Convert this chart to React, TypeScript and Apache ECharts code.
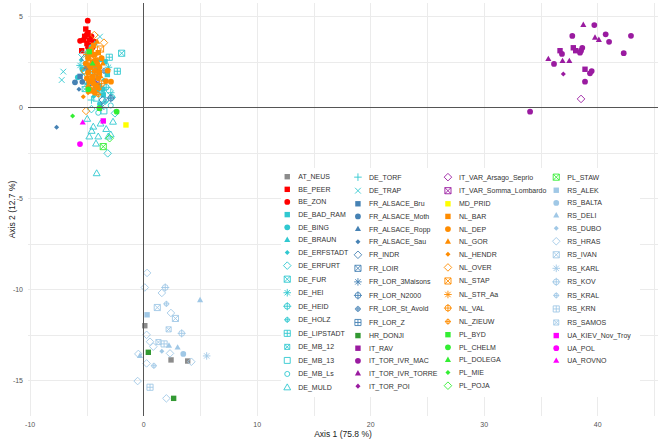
import React, { useEffect, useRef } from "react";
import * as echarts from "echarts";

// ---- Axis setup -----------------------------------------------------------
const X_MIN = -10.19;
const X_MAX = 45.31;
const Y_MIN = -16.96;
const Y_MAX = 5.73;
const X_LABELS = [-10, 0, 10, 20, 30, 40];
const X_GRID = [-10, -5, 0, 5, 10, 15, 20, 25, 30, 35, 40, 45];
const Y_LABELS = [-15, -10, -5, 0, 5];
const Y_GRID = [-15, -12.5, -10, -7.5, -5, -2.5, 0, 2.5, 5];

// ---- Individuals (PC1, PC2) per population --------------------------------
const AT_NEUS = [[0.1, -12.0], [2.41, -13.88], [3.88, -13.94]];
const BE_PEER = [[-5.1, 4.3], [-4.9, 4.1], [-5.2, 3.9], [-4.8, 3.7], [-5.0, 3.5], [-4.7, 3.4], [-5.46, 3.11], [-4.4, 3.6]];
const BE_ZON = [[-4.93, 4.76], [-5.0, 4.0], [-5.3, 3.7], [-4.6, 3.9], [-4.9, 3.3], [-5.6, 3.65], [-4.5, 3.3]];

const DE_BAD_RAM = [[-4.14, 0.95], [-3.56, 0.68], [-3.4, 2.5], [-3.2, 1.8], [-4.9, 2.8], [-3.9, 1.2]];
const DE_BING = [[-5.8, 1.65], [-3.85, 0.18], [-4.6, 3.3], [-3.6, 1.0], [-4.2, 2.2], [-5.4, 2.1]];
const DE_BRAUN = [[-4.3, 3.5], [-5.0, 1.3], [-3.9, 2.6]];
const DE_ERFSTADT = [[-5.5, 2.6], [-4.4, 0.6], [-3.5, 1.5]];
const DE_ERFURT = [[-3.17, -2.53], [-2.53, -0.33], [-5.4, 2.9], [-3.0, 0.9], [-4.6, -0.1]];
const DE_FUR = [[-1.94, 2.97]];
const DE_HEI = [[-5.6, 2.3], [-3.1, 2.2]];
const DE_HEID = [[-4.9, 3.0], [-3.3, 1.1], [-2.8, 0.55]];
const DE_HOLZ = [[-3.4, 0.3], [-4.5, 1.9]];
const DE_LIPSTADT = [[-3.03, 2.75], [-2.32, 1.98]];
const DE_MB_12 = [[-3.7, 0.9], [-5.2, 1.0]];
const DE_MB_13 = [[-3.5, -0.2], [-4.2, 0.5]];
const DE_MB_Ls = [[-3.3, 0.4], [-4.0, -0.3], [-2.9, 0.1]];
const DE_MULD = [[-4.79, -1.61], [-4.0, -1.61], [-3.12, -1.61], [-4.44, -1.07], [-4.97, -0.64], [-4.58, -1.3], [-4.14, -3.63], [-2.9, -1.5], [-3.3, -1.2], [-3.8, -0.9], [-2.7, -0.8], [-4.2, -2.0]];
const DE_TORF = [[-2.9, 0.8], [-4.6, 0.4]];
const DE_TRAP = [[-7.08, 1.96], [-7.22, 1.5], [-3.85, 3.88], [-5.3, 1.8]];

const FR_ALSACE_Bru = [[-5.6, 1.7], [-4.9, 2.1]];
const FR_ALSACE_Moth = [[-6.05, 1.37], [-5.4, 1.4]];
const FR_ALSACE_Ropp = [[-5.1, 2.2], [-4.5, 1.6]];
const FR_ALSACE_Sau = [[-7.67, -1.1], [-5.7, 0.99]];
const FR_INDR = [[-5.2, 2.7], [-3.6, 0.4]];
const FR_LOIR = [[-4.3, 1.5]];
const FR_LOR_3Maisons = [[-3.7, 0.0]];
const FR_LOR_N2000 = [[-2.9, 0.5], [-4.1, 1.9]];
const FR_LOR_St_Avold = [[-3.5, 2.0]];
const FR_LOR_Z = [[-4.7, 1.2]];

const HR_DONJI = [[0.41, -13.46], [2.64, -15.99]];

const IT_RAV = [[36.68, 3.11], [37.85, 3.27], [38.06, 3.11], [38.88, 2.09]];
const IT_TOR_IVR_MAC = [[39.7, 4.52], [37.76, 3.92], [40.7, 4.01], [41.0, 3.6], [42.93, 3.93], [36.85, 2.93], [38.64, 3.27], [38.53, 3.11], [38.44, 3.0], [42.29, 2.97], [36.15, 2.38], [39.47, 1.99], [39.32, 1.87], [38.88, 1.41], [34.04, -0.24]];
const IT_TOR_IVR_TORRE = [[38.73, 4.52], [39.76, 3.82], [40.1, 3.7], [35.65, 2.65], [36.9, 2.54], [37.5, 2.54]];
const IT_TOR_POI = [[36.97, 1.83]];
const IT_VAR_Arsago_Seprio = [[38.53, 0.46]];
const IT_VAR_Somma_Lombardo = [[-4.2, 1.4]];

const MD_PRID = [[-1.56, -0.97]];

const NL_BAR = [[-4.4, 3.4], [-4.6, 2.9], [-4.2, 2.6], [-4.8, 2.3], [-3.9, 1.9], [-4.5, 1.5], [-4.2, 1.2], [-4.7, 0.9], [-4.0, 3.0]];
const NL_DEP = [[-4.6, 3.2], [-4.3, 2.9], [-4.9, 2.7], [-4.5, 2.5], [-4.1, 2.4], [-4.7, 2.2], [-4.3, 2.0], [-4.9, 1.9], [-4.5, 1.7], [-4.0, 1.6], [-4.8, 1.4], [-4.4, 1.3], [-4.1, 1.1], [-4.7, 1.0], [-4.3, 0.8], [-3.17, 2.01], [-3.32, 1.44], [-2.88, 1.41], [-3.9, 2.2], [-5.1, 2.4], [-3.7, 2.7], [-5.0, 1.6]];
const NL_GOR = [[-4.1, 3.6], [-4.6, 3.1], [-4.3, 2.3], [-3.8, 1.7], [-4.9, 1.2], [-4.4, 0.9], [-3.6, 2.4]];
const NL_HENDR = [[-5.32, 0.58], [-4.9, 0.8], [-3.9, 1.0], [-4.5, 3.3]];
const NL_OVER = [[-3.5, 3.55], [-4.35, 3.97], [-5.08, -0.2], [-4.0, 2.8], [-5.2, 2.0]];
const NL_STAP = [[-4.7, 2.6], [-3.8, 3.2]];
const NL_STR_Aa = [[-4.2, 1.8], [-5.0, 2.9]];
const NL_VAL = [[-4.5, 2.1], [-3.7, 1.3]];
const NL_ZIEUW = [[-4.8, 1.7], [-4.0, 0.7]];

const PL_BYD = [[-4.8, 3.06]];
const PL_CHELM = [[-4.88, 0.99], [-2.38, -0.24], [-3.9, -0.05]];
const PL_DOLEGA = [[-4.5, 2.4]];
const PL_MIE = [[-6.26, -0.48]];
const PL_POJA = [[-3.0, -1.7]];
const PL_STAW = [[-3.56, -2.16]];

const RS_ALEK = [[0.3, -11.4]];
const RS_BALTA = [[3.49, -13.55]];
const RS_DELI = [[4.97, -10.6], [2.23, -13.1], [2.99, -13.2], [-0.33, -13.66]];
const RS_DUBO = [[1.6, -13.4]];
const RS_HRAS = [[-0.53, -15.04], [2.0, -15.99], [-0.47, -13.55], [0.3, -9.1], [0.1, -9.9], [0.26, -12.5], [0.56, -12.88], [0.85, -13.15], [2.32, -13.52], [1.6, -10.2], [2.4, -11.3], [0.26, -14.07], [4.2, -13.98]];
const RS_IVAN = [[1.2, -11.0], [2.8, -11.6]];
const RS_KARL = [[5.55, -13.66]];
const RS_KOV = [[3.35, -12.42], [1.9, -9.9]];
const RS_KRAL = [[0.9, -14.2], [2.0, -10.8]];
const RS_KRN = [[0.56, -15.38], [1.8, -13.0]];
const RS_SAMOS = [[2.2, -12.2], [1.3, -12.9]];

const UA_KIEV_Nov_Troy = [[-3.56, -0.75]];
const UA_POL = [[-5.61, -2.02]];
const UA_ROVNO = [[-5.37, -0.84]];

// ---- Styling --------------------------------------------------------------
const COUNTRY_COLORS: Record<string, string> = {
  AT: "#8c8c8c",
  BE: "#ff0000",
  DE: "#30c8d0",
  FR: "#4682b4",
  HR: "#339933",
  IT: "#9a1ba0",
  MD: "#ffff00",
  NL: "#ff8c00",
  PL: "#33ee33",
  RS: "#a0c8e6",
  UA: "#ff00ff",
};

// every marker is drawn in the same [-5, 5] box so one symbolSize fits all
const BOX = "M-5 -5M5 5";
const SHAPES: Record<string, string> = {
  square: "M-3 -3L3 -3L3 3L-3 3Z",
  circle: "M-3.2 0A3.2 3.2 0 1 1 3.2 0A3.2 3.2 0 1 1 -3.2 0Z",
  triangle: "M0 -3.8L3.4 2.2L-3.4 2.2Z",
  smallDiamond: "M0 -2.8L2.8 0L0 2.8L-2.8 0Z",
  openDiamond: "M0 -4.2L4.2 0L0 4.2L-4.2 0Z",
  boxX: "M-3.4 -3.4L3.4 -3.4L3.4 3.4L-3.4 3.4ZM-3.4 -3.4L3.4 3.4M3.4 -3.4L-3.4 3.4",
  asterisk: "M0 -4.2L0 4.2M-4.2 0L4.2 0M-3 -3L3 3M3 -3L-3 3",
  circlePlus: "M-3.2 0A3.2 3.2 0 1 1 3.2 0A3.2 3.2 0 1 1 -3.2 0ZM-4.5 0L4.5 0M0 -4.5L0 4.5",
  smallCirclePlus: "M-2.4 0A2.4 2.4 0 1 1 2.4 0A2.4 2.4 0 1 1 -2.4 0ZM-3.4 0L3.4 0M0 -3.4L0 3.4",
  squarePlus: "M-3.4 -3.4L3.4 -3.4L3.4 3.4L-3.4 3.4ZM-3.4 0L3.4 0M0 -3.4L0 3.4",
  smallBoxX: "M-2.8 -2.8L2.8 -2.8L2.8 2.8L-2.8 2.8ZM-2.8 -2.8L2.8 2.8M2.8 -2.8L-2.8 2.8",
  openSquare: "M-3.3 -3.3L3.3 -3.3L3.3 3.3L-3.3 3.3Z",
  openCircle: "M-2.8 0A2.8 2.8 0 1 1 2.8 0A2.8 2.8 0 1 1 -2.8 0Z",
  openTriangle: "M0 -4L3.8 2.6L-3.8 2.6Z",
  plus: "M-4.2 0L4.2 0M0 -4.2L0 4.2",
  cross: "M-3.2 -3.2L3.2 3.2M3.2 -3.2L-3.2 3.2",
};
const FILLED = new Set(["square", "circle", "triangle", "smallDiamond"]);

type Group = [string, string, string, number[][]];
const GROUPS: Group[] = [
  ["AT_NEUS", "AT", "square", AT_NEUS],
  ["BE_PEER", "BE", "square", BE_PEER],
  ["BE_ZON", "BE", "circle", BE_ZON],
  ["DE_BAD_RAM", "DE", "square", DE_BAD_RAM],
  ["DE_BING", "DE", "circle", DE_BING],
  ["DE_BRAUN", "DE", "triangle", DE_BRAUN],
  ["DE_ERFSTADT", "DE", "smallDiamond", DE_ERFSTADT],
  ["DE_ERFURT", "DE", "openDiamond", DE_ERFURT],
  ["DE_FUR", "DE", "boxX", DE_FUR],
  ["DE_HEI", "DE", "asterisk", DE_HEI],
  ["DE_HEID", "DE", "circlePlus", DE_HEID],
  ["DE_HOLZ", "DE", "smallCirclePlus", DE_HOLZ],
  ["DE_LIPSTADT", "DE", "squarePlus", DE_LIPSTADT],
  ["DE_MB_12", "DE", "smallBoxX", DE_MB_12],
  ["DE_MB_13", "DE", "openSquare", DE_MB_13],
  ["DE_MB_Ls", "DE", "openCircle", DE_MB_Ls],
  ["DE_MULD", "DE", "openTriangle", DE_MULD],
  ["DE_TORF", "DE", "plus", DE_TORF],
  ["DE_TRAP", "DE", "cross", DE_TRAP],
  ["FR_ALSACE_Bru", "FR", "square", FR_ALSACE_Bru],
  ["FR_ALSACE_Moth", "FR", "circle", FR_ALSACE_Moth],
  ["FR_ALSACE_Ropp", "FR", "triangle", FR_ALSACE_Ropp],
  ["FR_ALSACE_Sau", "FR", "smallDiamond", FR_ALSACE_Sau],
  ["FR_INDR", "FR", "openDiamond", FR_INDR],
  ["FR_LOIR", "FR", "boxX", FR_LOIR],
  ["FR_LOR_3Maisons", "FR", "asterisk", FR_LOR_3Maisons],
  ["FR_LOR_N2000", "FR", "circlePlus", FR_LOR_N2000],
  ["FR_LOR_St_Avold", "FR", "smallCirclePlus", FR_LOR_St_Avold],
  ["FR_LOR_Z", "FR", "squarePlus", FR_LOR_Z],
  ["HR_DONJI", "HR", "square", HR_DONJI],
  ["IT_RAV", "IT", "square", IT_RAV],
  ["IT_TOR_IVR_MAC", "IT", "circle", IT_TOR_IVR_MAC],
  ["IT_TOR_IVR_TORRE", "IT", "triangle", IT_TOR_IVR_TORRE],
  ["IT_TOR_POI", "IT", "smallDiamond", IT_TOR_POI],
  ["IT_VAR_Arsago_Seprio", "IT", "openDiamond", IT_VAR_Arsago_Seprio],
  ["IT_VAR_Somma_Lombardo", "IT", "boxX", IT_VAR_Somma_Lombardo],
  ["MD_PRID", "MD", "square", MD_PRID],
  ["NL_BAR", "NL", "square", NL_BAR],
  ["NL_DEP", "NL", "circle", NL_DEP],
  ["NL_GOR", "NL", "triangle", NL_GOR],
  ["NL_HENDR", "NL", "smallDiamond", NL_HENDR],
  ["NL_OVER", "NL", "openDiamond", NL_OVER],
  ["NL_STAP", "NL", "boxX", NL_STAP],
  ["NL_STR_Aa", "NL", "asterisk", NL_STR_Aa],
  ["NL_VAL", "NL", "circlePlus", NL_VAL],
  ["NL_ZIEUW", "NL", "smallCirclePlus", NL_ZIEUW],
  ["PL_BYD", "PL", "square", PL_BYD],
  ["PL_CHELM", "PL", "circle", PL_CHELM],
  ["PL_DOLEGA", "PL", "triangle", PL_DOLEGA],
  ["PL_MIE", "PL", "smallDiamond", PL_MIE],
  ["PL_POJA", "PL", "openDiamond", PL_POJA],
  ["PL_STAW", "PL", "boxX", PL_STAW],
  ["RS_ALEK", "RS", "square", RS_ALEK],
  ["RS_BALTA", "RS", "circle", RS_BALTA],
  ["RS_DELI", "RS", "triangle", RS_DELI],
  ["RS_DUBO", "RS", "smallDiamond", RS_DUBO],
  ["RS_HRAS", "RS", "openDiamond", RS_HRAS],
  ["RS_IVAN", "RS", "boxX", RS_IVAN],
  ["RS_KARL", "RS", "asterisk", RS_KARL],
  ["RS_KOV", "RS", "circlePlus", RS_KOV],
  ["RS_KRAL", "RS", "smallCirclePlus", RS_KRAL],
  ["RS_KRN", "RS", "squarePlus", RS_KRN],
  ["RS_SAMOS", "RS", "smallBoxX", RS_SAMOS],
  ["UA_KIEV_Nov_Troy", "UA", "square", UA_KIEV_Nov_Troy],
  ["UA_POL", "UA", "circle", UA_POL],
  ["UA_ROVNO", "UA", "triangle", UA_ROVNO],
];

const LEGEND_COLUMNS = [
  [0, 17],
  [17, 34],
  [34, 51],
  [51, 66],
];
const LEGEND_LEFT = [282.3, 353, 443, 551.3];

const FONT = "'Liberation Sans', Arial, Helvetica, sans-serif";
const STROKE = 0.9;

function buildOption() {
  const series: any[] = GROUPS.map(([name, country, shape, pts]) => {
    const c = COUNTRY_COLORS[country];
    const filled = FILLED.has(shape);
    return {
      type: "scatter",
      name,
      data: pts,
      symbol: "path://" + SHAPES[shape] + BOX,
      symbolSize: 9,
      symbolKeepAspect: true,
      z: 2,
      itemStyle: filled
        ? { color: c, borderWidth: 0, opacity: 1 }
        : { color: "rgba(0,0,0,0)", borderColor: c, borderWidth: STROKE, opacity: 1 },
      emphasis: { disabled: true },
    };
  });

  // reference lines through the origin
  series.push({
    type: "scatter",
    name: "origin",
    data: [],
    silent: true,
    z: 1,
    markLine: {
      silent: true,
      symbol: "none",
      animation: false,
      label: { show: false },
      lineStyle: { color: "#555555", width: 1, type: "solid" },
      emphasis: { disabled: true },
      data: [{ xAxis: 0 }, { yAxis: 0 }],
    },
  });

  const legend = LEGEND_COLUMNS.map(([a, b], i) => ({
    orient: "vertical",
    left: LEGEND_LEFT[i],
    top: 172.2,
    padding: 0,
    itemGap: 3.64,
    itemWidth: 12,
    itemHeight: 9,
    selectedMode: false,
    z: 5,
    textStyle: { fontSize: 7, color: "#333333", fontFamily: FONT, lineHeight: 9 },
    data: GROUPS.slice(a, b).map(([name, , shape]) => ({
      name,
      itemStyle: { borderWidth: FILLED.has(shape) ? 0 : STROKE },
    })),
  }));

  return {
    animation: false,
    backgroundColor: "#ffffff",
    grid: {
      left: 28,
      top: 3,
      width: 630,
      height: 413,
      containLabel: false,
      outerBoundsMode: "none",
    },
    xAxis: {
      type: "value",
      min: X_MIN,
      max: X_MAX,
      name: "Axis 1 (75.8 %)",
      nameLocation: "middle",
      nameGap: 13,
      nameMoveOverlap: false,
      nameTextStyle: { fontSize: 8.5, color: "#1a1a1a", fontFamily: FONT },
      axisLine: { show: false },
      axisTick: { show: false, customValues: X_GRID },
      axisLabel: { customValues: X_LABELS, fontSize: 7, color: "#555555", fontFamily: FONT, margin: 5 },
      splitLine: { show: true, lineStyle: { color: "#ebebeb", width: 1 } },
    },
    yAxis: {
      type: "value",
      min: Y_MIN,
      max: Y_MAX,
      name: "Axis 2 (12.7 %)",
      nameLocation: "middle",
      nameRotate: 90,
      nameGap: 12,
      nameMoveOverlap: false,
      nameTextStyle: { fontSize: 8.5, color: "#1a1a1a", fontFamily: FONT },
      axisLine: { show: false },
      axisTick: { show: false, customValues: Y_GRID },
      axisLabel: { customValues: Y_LABELS, fontSize: 7, color: "#555555", fontFamily: FONT, margin: 5 },
      splitLine: { show: true, lineStyle: { color: "#ebebeb", width: 1 } },
    },
    legend,
    graphic: [
      {
        type: "rect",
        z: 3,
        silent: true,
        shape: { x: 281, y: 168, width: 359, height: 229 },
        style: { fill: "#ffffff" },
      },
    ],
    series,
  };
}

export default function App() {
  const ref = useRef<HTMLDivElement>(null);
  useEffect(() => {
    if (!ref.current) return;
    const chart = echarts.init(ref.current, undefined, { renderer: "svg" });
    chart.setOption(buildOption() as any);
    return () => chart.dispose();
  }, []);
  return (
    <div
      ref={ref}
      style={{ position: "fixed", left: 0, top: 0, width: 661, height: 440, background: "#fff" }}
    />
  );
}
